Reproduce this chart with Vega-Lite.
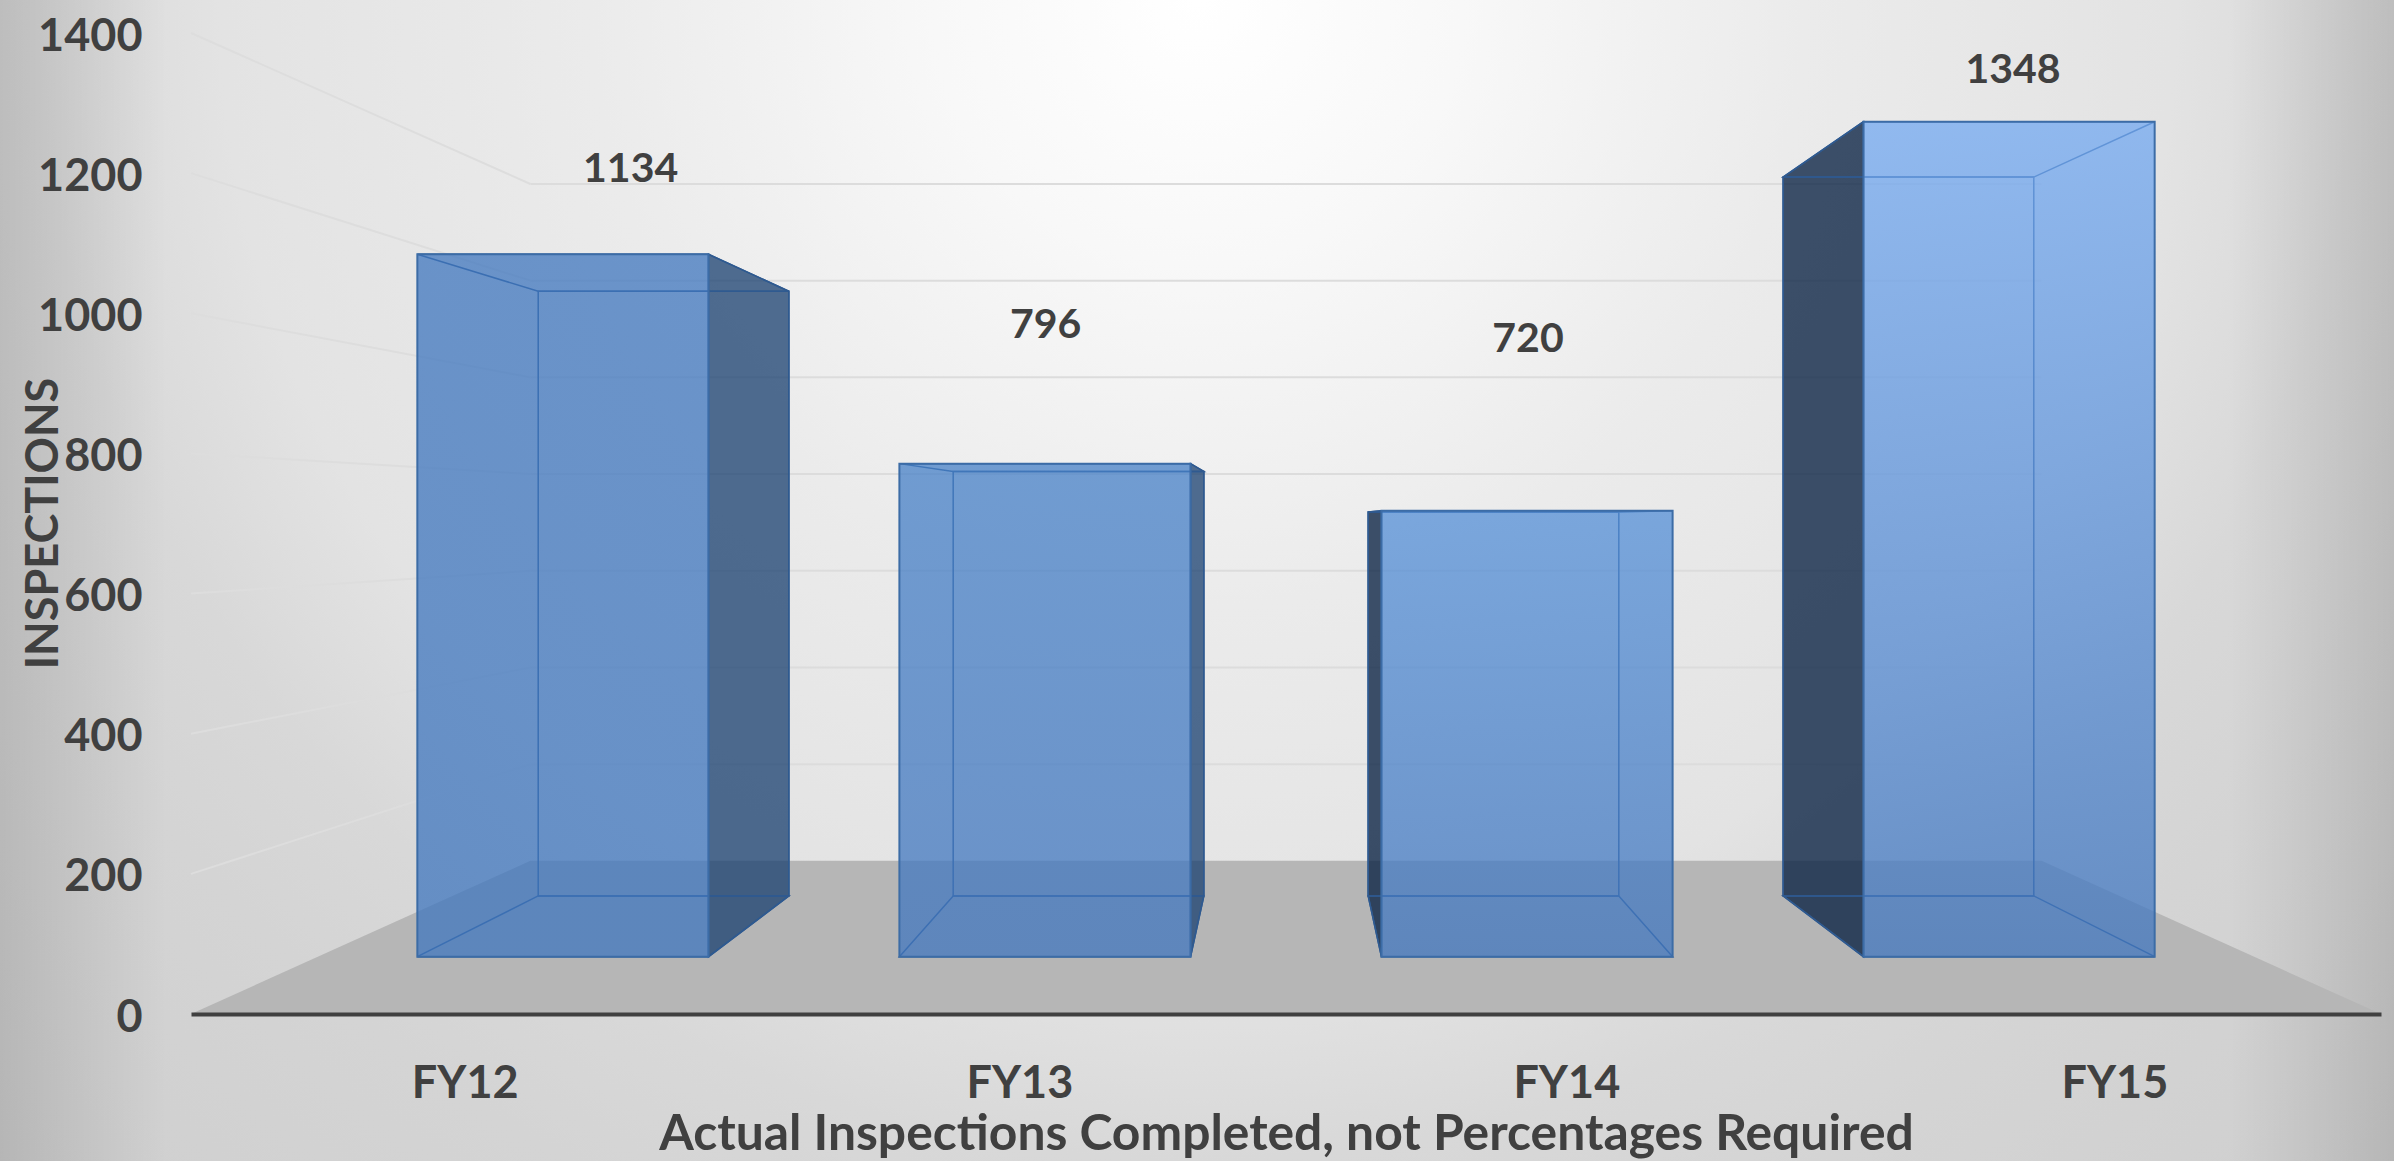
{
  "$schema": "https://vega.github.io/schema/vega-lite/v6.json",
  "width": 2190,
  "height": 981,
  "autosize": {"type": "none"},
  "padding": {"left": 191, "top": 33, "right": 13, "bottom": 147},
  "background": "#dddddd",
  "datasets": {
    "bars": [
      {"fy": "FY12", "slot": 0, "inspections": 1134},
      {"fy": "FY13", "slot": 1, "inspections": 796},
      {"fy": "FY14", "slot": 2, "inspections": 720},
      {"fy": "FY15", "slot": 3, "inspections": 1348}
    ],
    "ticks": [
      {"tick": 200}, {"tick": 400}, {"tick": 600}, {"tick": 800},
      {"tick": 1000}, {"tick": 1200}, {"tick": 1400}
    ],
    "floor": [
      {"corner": 0, "s": 1},
      {"corner": 0, "s": 0.69},
      {"corner": 4, "s": 0.69},
      {"corner": 4, "s": 1}
    ]
  },
  "layer": [
    {
      "description": "Backdrop: a soft glow reaching past the plot to the window edges",
      "data": {"values": [{"panel": "backdrop"}]},
      "mark": {
        "type": "rect",
        "clip": false,
        "fill": {
          "gradient": "radial",
          "x1": 0.5, "y1": 0, "r1": 0,
          "x2": 0.5, "y2": 0, "r2": 1,
          "stops": [
            {"offset": 0, "color": "#ffffff"},
            {"offset": 0.1, "color": "#f8f8f8"},
            {"offset": 0.23, "color": "#ebebeb"},
            {"offset": 0.37, "color": "#e3e3e3"},
            {"offset": 0.44, "color": "#d8d8d8"},
            {"offset": 0.5, "color": "#d4d4d4"},
            {"offset": 0.7, "color": "#cccccc"},
            {"offset": 1, "color": "#c4c4c4"}
          ]
        }
      },
      "encoding": {
        "x": {
          "datum": -0.35,
          "type": "quantitative",
          "scale": {"domain": [0, 4], "nice": false, "zero": false},
          "axis": {
            "zindex": 1,
            "orient": "bottom",
            "values": [0.5, 1.513, 2.512, 3.513],
            "labelExpr": "['FY12','FY13','FY14','FY15'][floor(datum.value)]",
            "grid": false,
            "ticks": false,
            "domainColor": "#404040",
            "domainWidth": 4,
            "labelFont": "Lato",
            "labelFontWeight": "bold",
            "labelFontSize": 45,
            "labelColor": "#404040",
            "labelPadding": 47,
            "labelOverlap": false,
            "labelFlush": false,
            "labelBound": false,
            "title": "Actual Inspections Completed, not Percentages Required",
            "titleFont": "Lato",
            "titleFontWeight": "bold",
            "titleFontSize": 49.8,
            "titleColor": "#404040",
            "titleX": 1095,
            "titleY": 120,
            "titleBaseline": "middle",
            "titleAlign": "center"
          }
        },
        "x2": {"datum": 4.03},
        "y": {
          "datum": 1448,
          "type": "quantitative",
          "scale": {"domain": [0, 1400], "nice": false, "zero": false},
          "axis": {
            "zindex": 1,
            "values": [0, 200, 400, 600, 800, 1000, 1200, 1400],
            "format": "d",
            "grid": false,
            "ticks": false,
            "domain": false,
            "labelFont": "Lato",
            "labelFontWeight": "bold",
            "labelFontSize": 45,
            "labelColor": "#404040",
            "labelPadding": 49,
            "labelOffset": 3,
            "labelOverlap": false,
            "labelFlush": false,
            "labelBound": false,
            "title": "INSPECTIONS",
            "titleFont": "Lato",
            "titleFontWeight": "bold",
            "titleFontSize": 45,
            "titleColor": "#404040",
            "titleX": -148,
            "titleY": 490,
            "titleBaseline": "middle",
            "titleAlign": "center"
          }
        },
        "y2": {"datum": -2320}
      }
    },
    {
      "description": "Backdrop: darkening towards the left and right window edges",
      "data": {"values": [{"panel": "edges"}]},
      "mark": {
        "type": "rect",
        "clip": false,
        "fill": {
          "gradient": "linear",
          "x1": 0, "y1": 0, "x2": 1, "y2": 0,
          "stops": [
            {"offset": 0, "color": "rgba(0,0,0,0.12)"},
            {"offset": 0.07, "color": "rgba(0,0,0,0)"},
            {"offset": 0.93, "color": "rgba(0,0,0,0)"},
            {"offset": 1, "color": "rgba(0,0,0,0.12)"}
          ]
        }
      },
      "encoding": {
        "x": {"datum": -0.35, "type": "quantitative", "scale": {"domain": [0, 4], "nice": false, "zero": false}},
        "x2": {"datum": 4.03},
        "y": {"datum": 1448, "type": "quantitative", "scale": {"domain": [0, 1400], "nice": false, "zero": false}},
        "y2": {"datum": -210}
      }
    },
    {
      "description": "Floor of the chart box, projected to the back wall",
      "data": {"name": "floor"},
      "transform": [
        {"calculate": "2 + (datum.corner - 2) * datum.s", "as": "sx"},
        {"calculate": "705 * (1 - datum.s)", "as": "sy"},
        {"calculate": "0", "as": "front"}
      ],
      "mark": {"type": "area", "orient": "vertical", "color": "#b6b6b6", "opacity": 1},
      "encoding": {
        "x": {"field": "sx", "type": "quantitative", "scale": {"domain": [0, 4], "nice": false, "zero": false}},
        "y": {"field": "sy", "type": "quantitative", "scale": {"domain": [0, 1400], "nice": false, "zero": false}, "stack": null},
        "y2": {"field": "front"}
      }
    },
    {
      "description": "Gridlines across the back wall",
      "data": {"name": "ticks"},
      "transform": [
        {"calculate": "705 + (datum.tick - 705) * 0.69", "as": "sy"},
        {"calculate": "2 - 2 * 0.69", "as": "xl"},
        {"calculate": "2 + 2 * 0.69", "as": "xr"}
      ],
      "mark": {"type": "rule", "color": "#dcdcdc", "strokeWidth": 2},
      "encoding": {
        "x": {"field": "xl", "type": "quantitative", "scale": {"domain": [0, 4], "nice": false, "zero": false}},
        "x2": {"field": "xr"},
        "y": {"field": "sy", "type": "quantitative", "scale": {"domain": [0, 1400], "nice": false, "zero": false}}
      }
    },
    {
      "description": "Gridlines running along the left wall towards the back",
      "data": {"name": "ticks"},
      "transform": [
        {"calculate": "[1, 0.69]", "as": "ss"},
        {"flatten": ["ss"], "as": ["s"]},
        {"calculate": "2 - 2 * datum.s", "as": "sx"},
        {"calculate": "705 + (datum.tick - 705) * datum.s", "as": "sy"}
      ],
      "mark": {"type": "line", "color": "#dddddd", "strokeWidth": 2},
      "encoding": {
        "detail": {"field": "tick"},
        "x": {"field": "sx", "type": "quantitative", "scale": {"domain": [0, 4], "nice": false, "zero": false}},
        "y": {"field": "sy", "type": "quantitative", "scale": {"domain": [0, 1400], "nice": false, "zero": false}}
      }
    },
    {
      "description": "Bars as translucent boxes: each one projected between its front and back planes",
      "data": {"name": "bars"},
      "transform": [
        {"calculate": "[0.884, 0.761]", "as": "ss"},
        {"flatten": ["ss"], "as": ["s"]},
        {"calculate": "2 + (datum.slot + 0.198 - 2) * datum.s * 0.996", "as": "sxl"},
        {"calculate": "2 + (datum.slot + 0.802 - 2) * datum.s * 0.996", "as": "sxr"},
        {"calculate": "705 + (datum.inspections - 705) * datum.s", "as": "stop"},
        {"calculate": "705 * (1 - datum.s)", "as": "sbase"}
      ],
      "layer": [
        {
          "description": "Dark outer side of the two left bars",
          "transform": [{"filter": "datum.slot < 2"}],
          "mark": {"type": "area", "orient": "vertical", "fill": "#183f6f", "fillOpacity": 0.75, "stroke": "#2f5a90", "strokeWidth": 1.5},
          "encoding": {
            "detail": {"field": "fy"},
            "x": {"field": "sxr", "type": "quantitative", "scale": {"domain": [0, 4], "nice": false, "zero": false}},
            "y": {"field": "stop", "type": "quantitative", "scale": {"domain": [0, 1400], "nice": false, "zero": false}, "stack": null},
            "y2": {"field": "sbase"}
          }
        },
        {
          "description": "Dark outer side of the two right bars",
          "transform": [{"filter": "datum.slot >= 2"}],
          "mark": {"type": "area", "orient": "vertical", "fill": "#092143", "fillOpacity": 0.78, "stroke": "#2f5a90", "strokeWidth": 1.5},
          "encoding": {
            "detail": {"field": "fy"},
            "x": {"field": "sxl", "type": "quantitative", "scale": {"domain": [0, 4], "nice": false, "zero": false}},
            "y": {"field": "stop", "type": "quantitative", "scale": {"domain": [0, 1400], "nice": false, "zero": false}, "stack": null},
            "y2": {"field": "sbase"}
          }
        },
        {
          "description": "Back face outline",
          "transform": [{"filter": "datum.s < 0.8"}],
          "mark": {"type": "rect", "fillOpacity": 0, "stroke": "#2f5a90", "strokeWidth": 1.5},
          "encoding": {
            "x": {"field": "sxl", "type": "quantitative", "scale": {"domain": [0, 4], "nice": false, "zero": false}},
            "x2": {"field": "sxr"},
            "y": {"field": "stop", "type": "quantitative", "scale": {"domain": [0, 1400], "nice": false, "zero": false}},
            "y2": {"field": "sbase"}
          }
        },
        {
          "description": "Top face",
          "mark": {"type": "area", "orient": "horizontal", "fillOpacity": 0, "stroke": "#2f5a90", "strokeWidth": 1.5},
          "encoding": {
            "detail": {"field": "fy"},
            "x": {"field": "sxl", "type": "quantitative", "scale": {"domain": [0, 4], "nice": false, "zero": false}, "stack": null},
            "x2": {"field": "sxr"},
            "y": {"field": "stop", "type": "quantitative", "scale": {"domain": [0, 1400], "nice": false, "zero": false}}
          }
        },
        {
          "description": "Bottom face",
          "mark": {"type": "area", "orient": "horizontal", "fillOpacity": 0, "stroke": "#2f5a90", "strokeWidth": 1.5},
          "encoding": {
            "detail": {"field": "fy"},
            "x": {"field": "sxl", "type": "quantitative", "scale": {"domain": [0, 4], "nice": false, "zero": false}, "stack": null},
            "x2": {"field": "sxr"},
            "y": {"field": "sbase", "type": "quantitative", "scale": {"domain": [0, 1400], "nice": false, "zero": false}}
          }
        },
        {
          "description": "Front face FY12",
          "transform": [{"filter": "datum.s > 0.8 && datum.fy === 'FY12'"}],
          "mark": {
            "type": "rect", "stroke": "#3c6ca6", "strokeWidth": 2,
            "fill": {"gradient": "linear", "x1": 0, "y1": 0, "x2": 0, "y2": 1, "stops": [
              {"offset": 0, "color": "rgba(63,118,190,0.75)"},
              {"offset": 1, "color": "rgba(63,118,190,0.75)"}
            ]}
          },
          "encoding": {
            "x": {"field": "sxl", "type": "quantitative", "scale": {"domain": [0, 4], "nice": false, "zero": false}},
            "x2": {"field": "sxr"},
            "y": {"field": "stop", "type": "quantitative", "scale": {"domain": [0, 1400], "nice": false, "zero": false}},
            "y2": {"field": "sbase"}
          }
        },
        {
          "description": "Front face FY13",
          "transform": [{"filter": "datum.s > 0.8 && datum.fy === 'FY13'"}],
          "mark": {
            "type": "rect", "stroke": "#3c6ca6", "strokeWidth": 2,
            "fill": {"gradient": "linear", "x1": 0, "y1": 0, "x2": 0, "y2": 1, "stops": [
              {"offset": 0, "color": "rgba(70,128,199,0.75)"},
              {"offset": 1, "color": "rgba(65,118,190,0.75)"}
            ]}
          },
          "encoding": {
            "x": {"field": "sxl", "type": "quantitative", "scale": {"domain": [0, 4], "nice": false, "zero": false}},
            "x2": {"field": "sxr"},
            "y": {"field": "stop", "type": "quantitative", "scale": {"domain": [0, 1400], "nice": false, "zero": false}},
            "y2": {"field": "sbase"}
          }
        },
        {
          "description": "Front face FY14",
          "transform": [{"filter": "datum.s > 0.8 && datum.fy === 'FY14'"}],
          "mark": {
            "type": "rect", "stroke": "#3c6ca6", "strokeWidth": 2,
            "fill": {"gradient": "linear", "x1": 0, "y1": 0, "x2": 0, "y2": 1, "stops": [
              {"offset": 0, "color": "rgba(84,143,215,0.75)"},
              {"offset": 1, "color": "rgba(65,118,190,0.75)"}
            ]}
          },
          "encoding": {
            "x": {"field": "sxl", "type": "quantitative", "scale": {"domain": [0, 4], "nice": false, "zero": false}},
            "x2": {"field": "sxr"},
            "y": {"field": "stop", "type": "quantitative", "scale": {"domain": [0, 1400], "nice": false, "zero": false}},
            "y2": {"field": "sbase"}
          }
        },
        {
          "description": "Front face FY15",
          "transform": [{"filter": "datum.s > 0.8 && datum.fy === 'FY15'"}],
          "mark": {
            "type": "rect", "stroke": "#3c6ca6", "strokeWidth": 2,
            "fill": {"gradient": "linear", "x1": 0, "y1": 0, "x2": 0, "y2": 1, "stops": [
              {"offset": 0, "color": "rgba(115,169,241,0.75)"},
              {"offset": 1, "color": "rgba(65,118,190,0.75)"}
            ]}
          },
          "encoding": {
            "x": {"field": "sxl", "type": "quantitative", "scale": {"domain": [0, 4], "nice": false, "zero": false}},
            "x2": {"field": "sxr"},
            "y": {"field": "stop", "type": "quantitative", "scale": {"domain": [0, 1400], "nice": false, "zero": false}},
            "y2": {"field": "sbase"}
          }
        }
      ]
    },
    {
      "description": "Value labels floating above each bar",
      "data": {"name": "bars"},
      "transform": [
        {"calculate": "{FY12: 0.803, FY13: 1.561, FY14: 2.442, FY15: 3.328}[datum.fy]", "as": "lx"},
        {"calculate": "{FY12: 1204, FY13: 982, FY14: 962, FY15: 1346}[datum.fy]", "as": "ly"}
      ],
      "mark": {"type": "text", "font": "Lato", "fontWeight": "bold", "fontSize": 41, "color": "#404040", "align": "center", "baseline": "middle"},
      "encoding": {
        "x": {"field": "lx", "type": "quantitative", "scale": {"domain": [0, 4], "nice": false, "zero": false}},
        "y": {"field": "ly", "type": "quantitative", "scale": {"domain": [0, 1400], "nice": false, "zero": false}},
        "text": {"field": "inspections", "type": "quantitative"}
      }
    }
  ]
}
